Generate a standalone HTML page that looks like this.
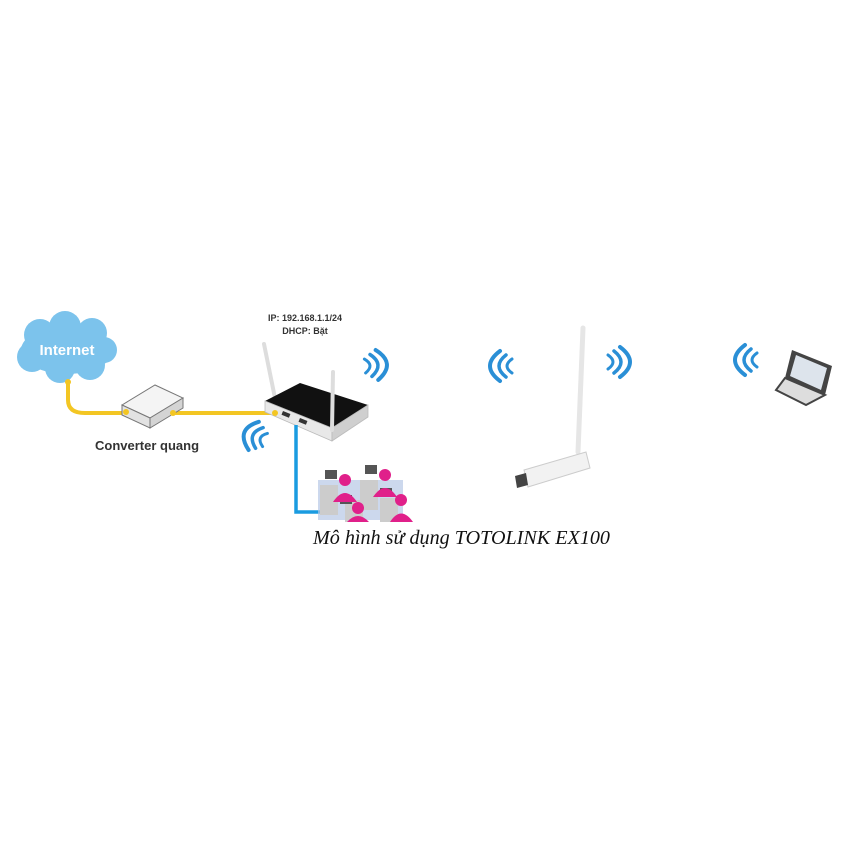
<!DOCTYPE html>
<html><head><meta charset="utf-8"><style>
html,body{margin:0;padding:0;background:#fff;width:857px;height:857px;overflow:hidden}
svg{display:block}
</style></head><body>
<svg width="857" height="857" viewBox="0 0 857 857" xmlns="http://www.w3.org/2000/svg">
<defs>
<g id="wr" fill="none" stroke="#2a8fd6" stroke-linecap="round">
  <path d="M0,-7 Q10,0 0,7" stroke-width="3"/>
  <path d="M6,-11 Q20,0 6,11" stroke-width="3.5"/>
  <path d="M12,-15 Q32,0 12,15" stroke-width="4"/>
</g>
</defs>
<!-- cloud -->
<g fill="#7cc3ec">
  <ellipse cx="67" cy="350" rx="46" ry="24"/>
  <circle cx="40" cy="335" r="16"/><circle cx="65" cy="327" r="16"/><circle cx="92" cy="333" r="15"/>
  <circle cx="32" cy="357" r="15"/><circle cx="60" cy="368" r="15"/><circle cx="90" cy="365" r="15"/><circle cx="104" cy="350" r="13"/>
</g>
<text x="67" y="355" font-family="Liberation Sans, sans-serif" font-weight="bold" font-size="15" fill="#fff" text-anchor="middle">Internet</text>
<!-- yellow cables -->
<path d="M68,381 L68,400 Q68,413 85,413 L125,413" fill="none" stroke="#f3c623" stroke-width="4"/>
<path d="M173,413 L275,413" fill="none" stroke="#f3c623" stroke-width="4"/>
<circle cx="68" cy="382" r="3" fill="#f3c623"/>
<!-- converter -->
<polygon points="122,405 155,385 183,398 150,418" fill="#f4f4f4" stroke="#777" stroke-width="1"/>
<polygon points="122,405 150,418 150,428 122,415" fill="#e2e2e2" stroke="#777" stroke-width="1"/>
<polygon points="150,418 183,398 183,408 150,428" fill="#d4d4d4" stroke="#777" stroke-width="1"/>
<circle cx="126" cy="412" r="3" fill="#f3c623"/><circle cx="173" cy="413" r="3" fill="#f3c623"/>
<text x="95" y="450" font-family="Liberation Sans, sans-serif" font-weight="bold" font-size="13" fill="#333">Converter quang</text>
<!-- router -->
<text x="305" y="321" font-family="Liberation Sans, sans-serif" font-weight="bold" font-size="9" fill="#333" text-anchor="middle">IP: 192.168.1.1/24</text>
<text x="305" y="334" font-family="Liberation Sans, sans-serif" font-weight="bold" font-size="9" fill="#333" text-anchor="middle">DHCP: Bặt</text>
<line x1="264" y1="344" x2="276" y2="403" stroke="#ddd" stroke-width="4" stroke-linecap="round"/>
<polygon points="265,401 300,383 368,405 332,428" fill="#111"/>
<polygon points="265,401 332,428 332,441 265,412" fill="#e8e8e8" stroke="#bbb" stroke-width="0.8"/>
<polygon points="332,428 368,405 368,417 332,441" fill="#cfcfcf" stroke="#bbb" stroke-width="0.8"/>
<rect x="283" y="411" width="8" height="4" fill="#333" transform="rotate(22 283 411)"/>
<rect x="300" y="418" width="8" height="4" fill="#333" transform="rotate(22 300 418)"/>
<line x1="333" y1="372" x2="332" y2="430" stroke="#ddd" stroke-width="4" stroke-linecap="round"/>
<circle cx="275" cy="413" r="3" fill="#f3c623"/>
<!-- blue cable -->
<path d="M296,425 L296,512 L330,512" fill="none" stroke="#1a9be0" stroke-width="3.5"/>
<!-- people -->
<g>
  <rect x="318" y="480" width="85" height="40" fill="#b7c8e6" opacity="0.7"/>
  <rect x="320" y="485" width="18" height="30" fill="#ccc"/><rect x="360" y="480" width="18" height="30" fill="#ccc"/>
  <rect x="345" y="500" width="18" height="22" fill="#ccc"/><rect x="380" y="498" width="18" height="24" fill="#ccc"/>
  <rect x="325" y="470" width="12" height="9" fill="#555"/><rect x="365" y="465" width="12" height="9" fill="#555"/>
  <rect x="340" y="495" width="12" height="9" fill="#555"/><rect x="380" y="488" width="12" height="9" fill="#555"/>
  <g fill="#e0208a">
    <circle cx="345" cy="480" r="6"/><path d="M333,502 Q345,484 357,502 Z"/>
    <circle cx="385" cy="475" r="6"/><path d="M373,497 Q385,479 397,497 Z"/>
    <circle cx="358" cy="508" r="6"/><path d="M347,522 Q358,510 369,522 Z"/>
    <circle cx="401" cy="500" r="6"/><path d="M390,522 Q401,505 413,522 Z"/>
  </g>
</g>
<!-- wifi waves -->
<use href="#wr" transform="translate(365,366) rotate(-5)"/>
<use href="#wr" transform="translate(265,440) rotate(200)"/>
<use href="#wr" transform="translate(512,366) rotate(180)"/>
<use href="#wr" transform="translate(608,362)"/>
<use href="#wr" transform="translate(757,360) rotate(180)"/>
<!-- dongle -->
<line x1="583" y1="328" x2="578" y2="452" stroke="#e6e6e6" stroke-width="5" stroke-linecap="round"/>
<polygon points="524,470 586,452 590,468 528,487" fill="#f2f2f2" stroke="#ccc" stroke-width="1"/>
<polygon points="515,476 526,473 528,485 517,488" fill="#444"/>
<!-- laptop -->
<polygon points="792,350 832,366 825,395 785,378" fill="#444"/>
<polygon points="796,355 827,368 821,390 790,376" fill="#dde4ec"/>
<polygon points="785,378 825,395 806,405 776,390" fill="#ddd" stroke="#444" stroke-width="2"/>
<!-- caption -->
<text x="313" y="544" font-family="Liberation Serif, serif" font-style="italic" font-size="20" fill="#111" textLength="297" lengthAdjust="spacingAndGlyphs">Mô hình sử dụng TOTOLINK EX100</text>
</svg>
</body></html>
